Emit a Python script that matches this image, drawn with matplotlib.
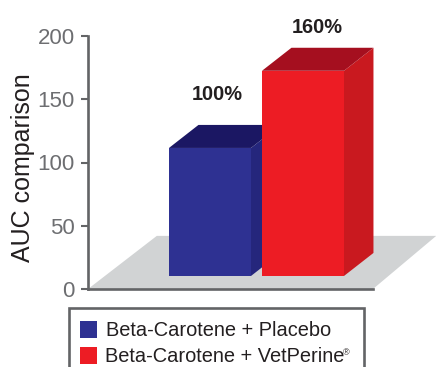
import matplotlib
matplotlib.use("Agg")
import matplotlib.pyplot as plt
from matplotlib.patches import Polygon, Rectangle

plt.rcParams['font.family'] = ['Liberation Sans', 'DejaVu Sans']

categories = ['Beta-Carotene + Placebo', 'Beta-Carotene + VetPerine\u00ae']
values = [111.5, 172.5]
labels = ['100%', '160%']
label_x = [0.08, 1.15]
label_y = [153.5, 206.5]
yticks = [0, 50, 100, 150, 200]
ylabel = 'AUC comparison'
front = ['#2e3192', '#ed1c24']
side = ['#25267c', '#c9191f']
top = ['#1b1763', '#a50f1f']
FLOOR = '#d1d3d4'
AXC = '#636466'
W, H = 436, 367
BASE = 10.3
BW = 0.882
DX, DY = 0.317, 18.2

fig = plt.figure(figsize=(W/100, H/100), dpi=100)
ax = fig.add_axes([88/W, 1-289/H, (373-88)/W, (289-36)/H])
ax.set_xlim(-1.312, 1.753)
ax.set_ylim(0, 200)
for s in ['top', 'right']:
    ax.spines[s].set_visible(False)
for s in ['left', 'bottom']:
    ax.spines[s].set_color(AXC)
    ax.spines[s].set_linewidth(1.9)
    ax.spines[s].set_zorder(5)
ax.set_xticks([])
ax.set_yticks(yticks)
ax.tick_params(axis='y', length=5, width=1.5, color=AXC, labelcolor='#6d6e71', labelsize=16, pad=4.5)
ax.set_ylabel(ylabel, fontsize=18, color='#231f20')
ax.yaxis.set_label_coords(-53/285, 0.48)

# floor
x0, x1 = ax.get_xlim()
ax.add_patch(Polygon([(x0, 0), (x1, 0), (x1+0.68, 42), (x0+0.74, 42)], closed=True,
                     fc=FLOOR, ec='none', clip_on=False, zorder=1))

for i, (v, lab) in enumerate(zip(values, labels)):
    l, r = i-BW/2, i+BW/2
    z = 2+i
    ax.add_patch(Polygon([(r, BASE), (r+DX, BASE+DY), (r+DX, v+DY), (r, v)], fc=side[i], ec='none', clip_on=False, zorder=z))
    ax.add_patch(Polygon([(l, v), (r, v), (r+DX, v+DY), (l+DX, v+DY)], fc=top[i], ec='none', clip_on=False, zorder=z))
    ax.add_patch(Rectangle((l, BASE), BW, v-BASE, fc=front[i], ec='none', zorder=z))
    ax.text(label_x[i], label_y[i], lab, ha='center', va='center', fontsize=14.4, fontweight='bold', color='#231f20', zorder=6, clip_on=False)

# legend
fig.add_artist(Rectangle((68.5/W, 1-372/H), 295/W, 64/H, transform=fig.transFigure, fc='white', ec=AXC, lw=1.9))
for i, (c, col) in enumerate(zip(categories, front)):
    y = 329.5 + 26*i
    fig.add_artist(Rectangle((80/W, 1-(y+8.5)/H), 17/W, 17/H, transform=fig.transFigure, fc=col, ec='none'))
    name = c.replace('\u00ae', '')
    fig.text((106 if i == 0 else 105)/W, 1-(y+1.5)/H, name, fontsize=14.4, color='#231f20', va='center', ha='left')
    if i == 1:
        fig.text(343/W, 1-(y-2.5)/H, '\u00ae', fontsize=6.5, color='#231f20', va='center', ha='left')

fig.savefig('out.png', dpi=100)
